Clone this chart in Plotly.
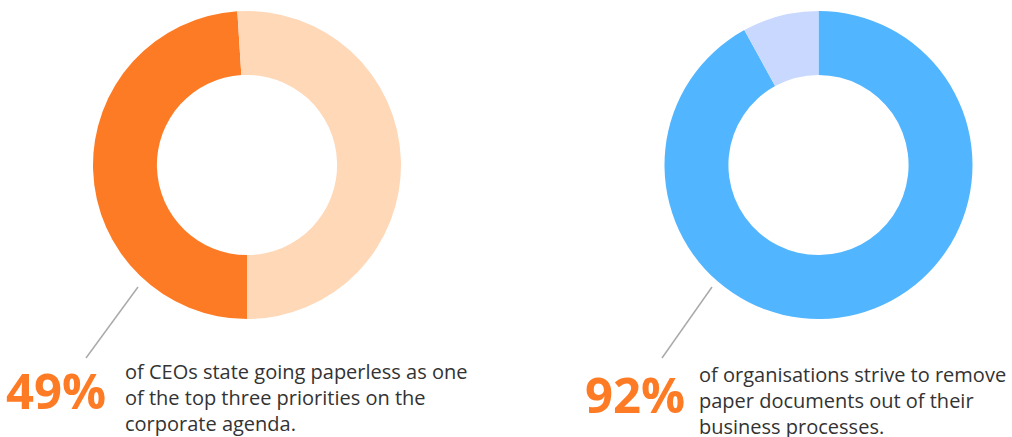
import plotly.graph_objects as go

W, H = 1012, 437

# Survey figures (percent)
ceo_labels = ["Paperless a top-three priority", "Other"]
ceo_values = [49, 51]
org_labels = ["Striving to remove paper", "Other"]
org_values = [92, 8]

ceo_colors = ["#FE7B25", "#FFD8B8"]
org_colors = ["#51B5FF", "#C8D8FF"]

ceo_caption = ["of CEOs state going paperless as one",
               "of the top three priorities on the",
               "corporate agenda."]
org_caption = ["of organisations strive to remove",
               "paper documents out of their",
               "business processes."]


def px_domain(cx, cy, r):
    """Pie domain (paper units) for a centre/radius given in pixels."""
    return dict(x=[(cx - r) / W, (cx + r) / W],
                y=[(H - cy - r) / H, (H - cy + r) / H])


def px(x, y):
    return x / W, (H - y) / H


fig = go.Figure()
fig.add_trace(go.Pie(
    labels=ceo_labels, values=ceo_values, hole=0.585, sort=False,
    direction="clockwise", rotation=180, textinfo="none",
    marker=dict(colors=ceo_colors, line=dict(width=0)),
    domain=px_domain(247, 165, 154), showlegend=False,
))
fig.add_trace(go.Pie(
    labels=org_labels, values=org_values, hole=0.585, sort=False,
    direction="clockwise", rotation=0, textinfo="none",
    marker=dict(colors=org_colors, line=dict(width=0)),
    domain=px_domain(818.5, 165, 154), showlegend=False,
))

shapes = []
for (x0, y0, x1, y1) in [(138, 287, 86, 358), (712, 287, 662, 358)]:
    a = px(x0, y0)
    b = px(x1, y1)
    shapes.append(dict(type="line", xref="paper", yref="paper",
                       x0=a[0], y0=a[1], x1=b[0], y1=b[1],
                       line=dict(color="#AAAAAA", width=1.5)))

annotations = []
big_font = dict(family="Open Sans", size=49, color="#FE7B25", weight=700)
body_font = dict(family="Open Sans", size=20, color="#333333", weight=400)


def add_block(value, big_x, big_y, lines, tx, ty0, step):
    bx, by = px(big_x, big_y)
    annotations.append(dict(text=f"{value}%", x=bx, y=by, xref="paper",
                            yref="paper", xanchor="left", yanchor="middle",
                            showarrow=False, font=big_font))
    for i, line in enumerate(lines):
        lx, ly = px(tx, ty0 + i * step)
        annotations.append(dict(text=line, x=lx, y=ly, xref="paper",
                                yref="paper", xanchor="left",
                                yanchor="middle", showarrow=False,
                                font=body_font))


add_block(ceo_values[0], 4, 390, ceo_caption, 123, 371, 26)
add_block(org_values[0], 583, 394, org_caption, 697, 374, 26)

fig.update_layout(
    width=W, height=H, margin=dict(l=0, r=0, t=0, b=0),
    paper_bgcolor="white", plot_bgcolor="white",
    shapes=shapes, annotations=annotations,
)

fig.write_html("out.html")
